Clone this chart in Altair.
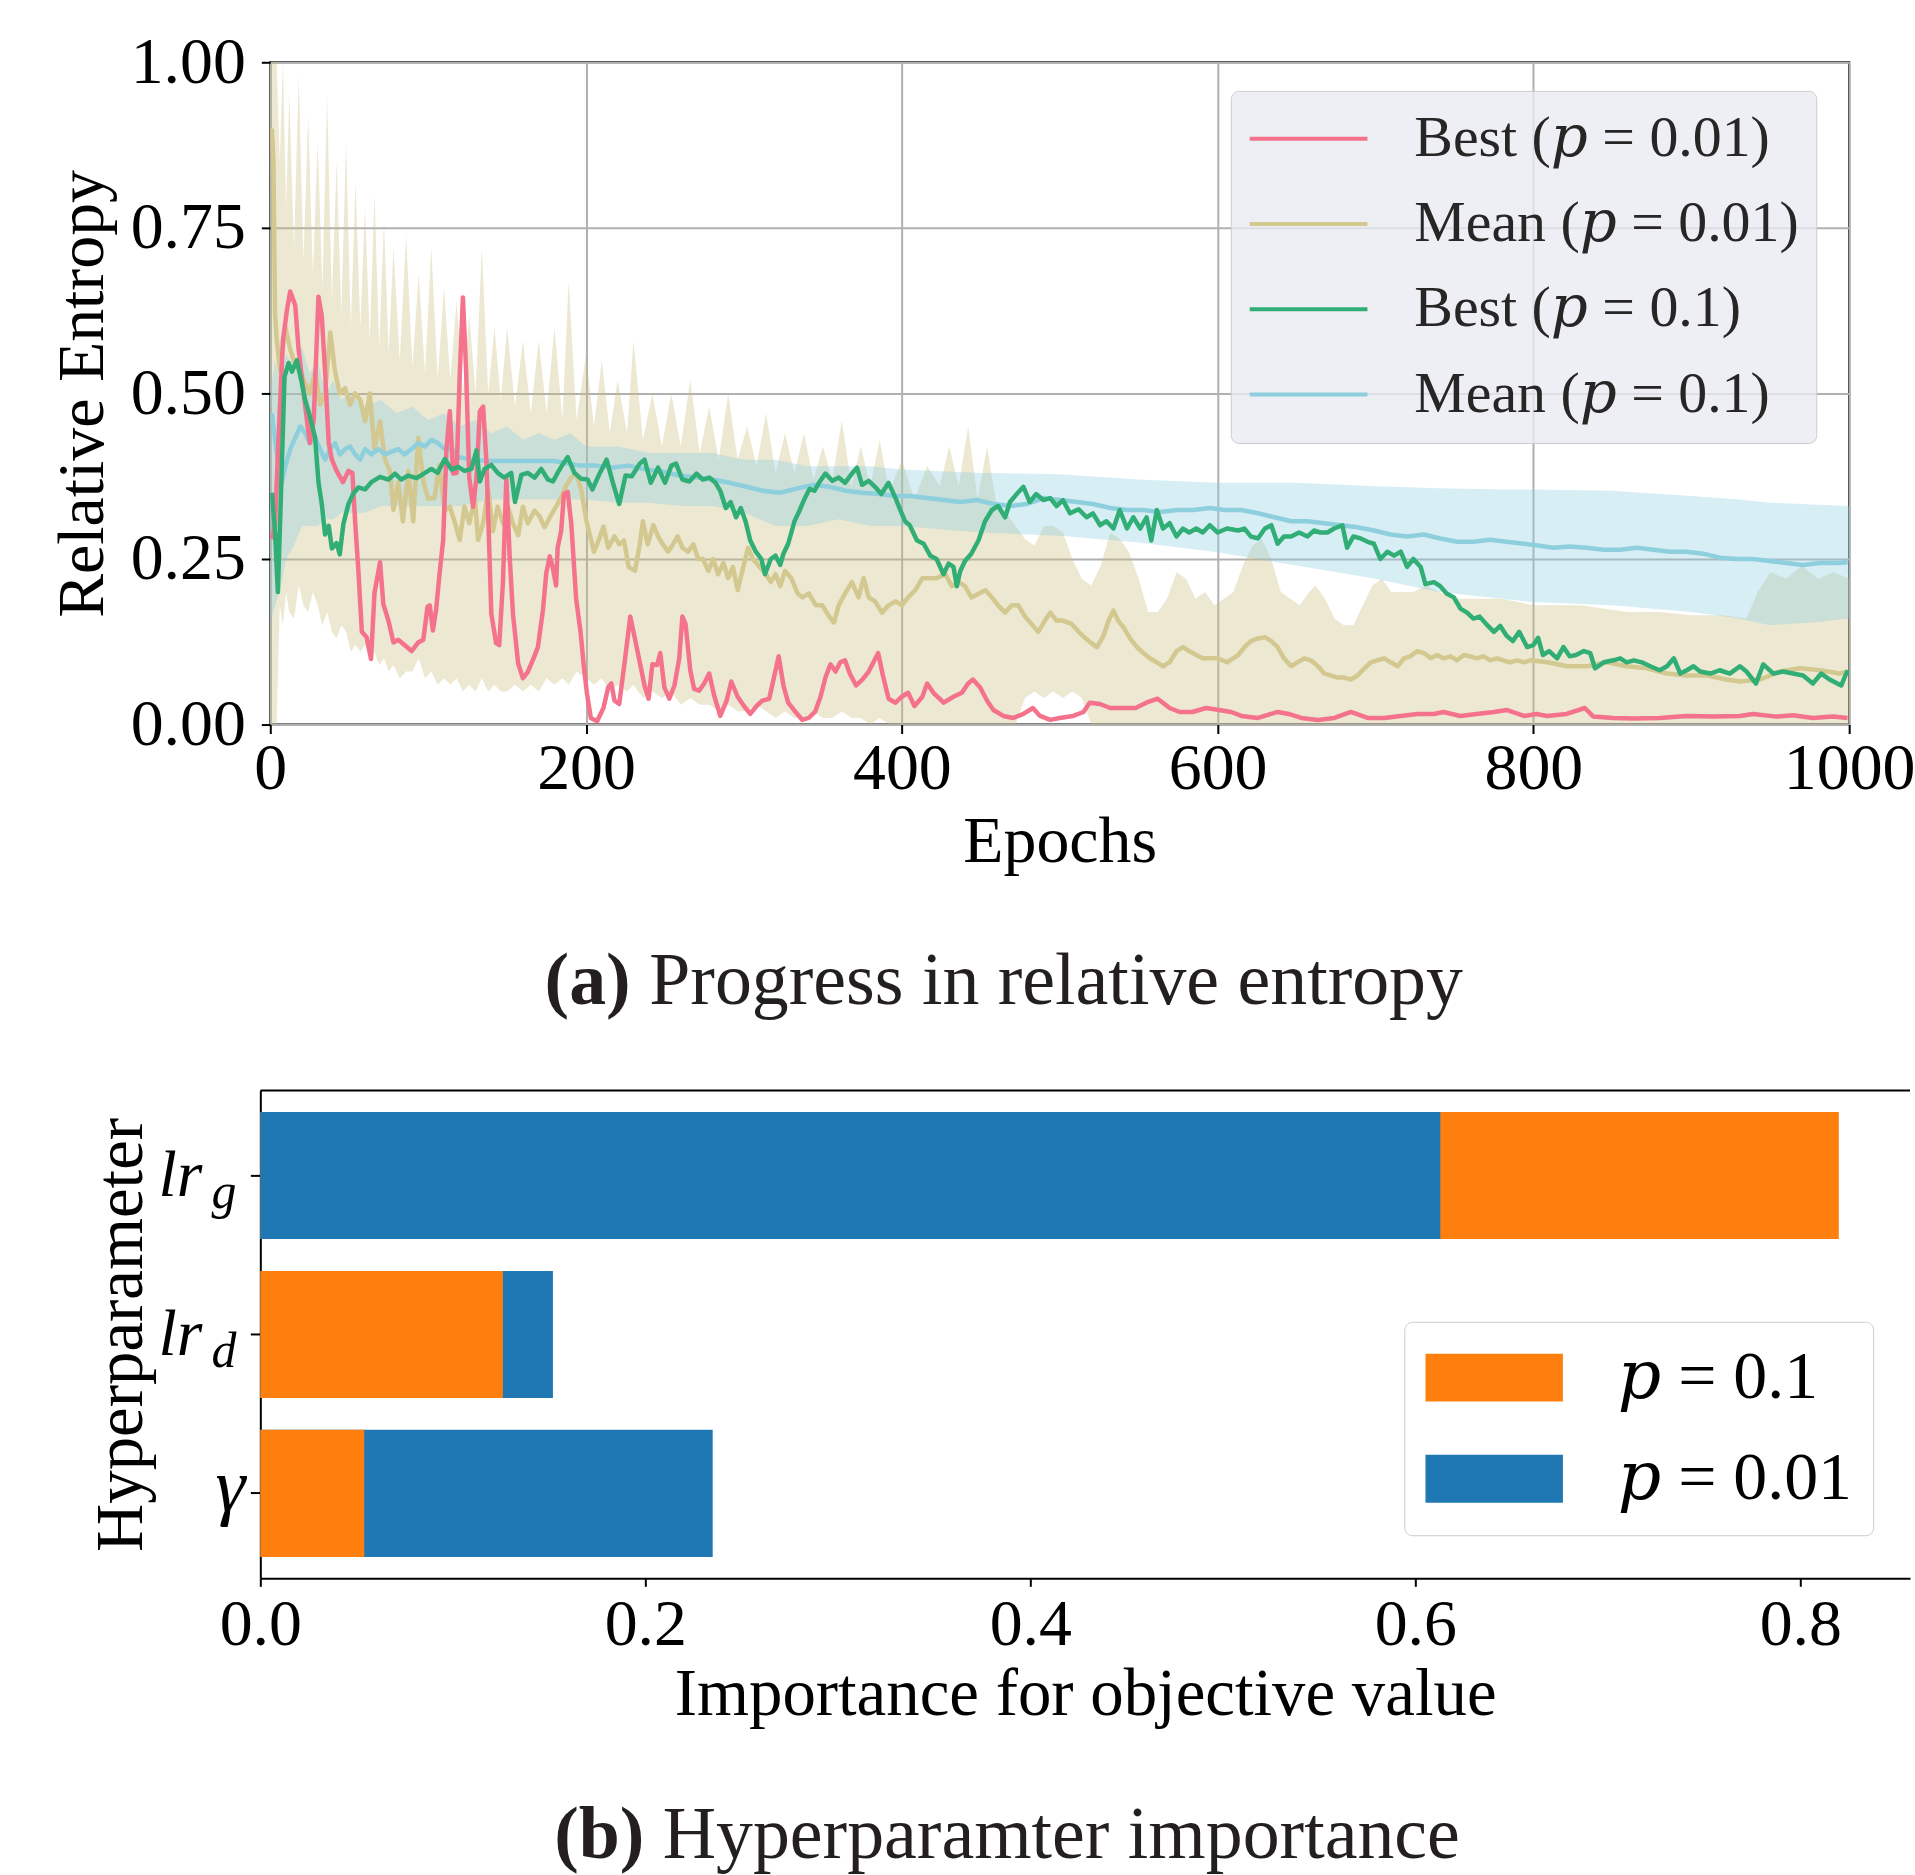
import altair as alt
import pandas as pd

# ---------------- data ----------------
P = "\U0001D45D"  # mathematical italic small p

# (epoch, value) for each line of panel (a)
BEST_P001 = [
    (1, 0.28), (3, 0.30), (5, 0.42), (8, 0.58), (10.5, 0.625), (12.6, 0.654), (15.8, 0.633), (17.9, 0.567), (22, 0.483), (25, 0.425),
    (27.5, 0.46), (30.5, 0.646), (32.6, 0.617), (34.7, 0.533), (37, 0.425), (39, 0.40), (42, 0.383), (46, 0.366), (49.5, 0.383), (52, 0.38),
    (53.7, 0.308), (55.8, 0.232), (58, 0.14), (61, 0.132), (63.8, 0.099), (66, 0.199), (69.5, 0.245), (71.6, 0.182), (74.8, 0.157), (78, 0.124),
    (81, 0.128), (85, 0.12), (89.5, 0.111), (93.7, 0.124), (96.9, 0.128), (99.6, 0.178), (101, 0.18), (103, 0.142), (105, 0.173), (107, 0.223),
    (109.5, 0.279), (111.6, 0.417), (113.7, 0.473), (115.8, 0.379), (118, 0.38), (120, 0.529), (122, 0.645), (124, 0.536), (126, 0.373), (128.4, 0.329),
    (130.6, 0.373), (132.7, 0.473), (134.8, 0.48), (137, 0.392), (140, 0.167), (143, 0.123), (145, 0.12), (147.4, 0.217), (149.5, 0.373), (151.6, 0.254),
    (153.7, 0.167), (157, 0.092), (160, 0.07), (163, 0.079), (166.4, 0.098), (169.5, 0.117), (172.7, 0.173), (174.8, 0.229), (177, 0.254), (179, 0.236),
    (181, 0.21), (182, 0.267), (184.2, 0.292), (186, 0.348), (188.4, 0.351), (190.6, 0.304), (193.7, 0.19), (196.5, 0.14), (198.5, 0.09), (200.5, 0.048),
    (203, 0.01), (207, 0.005), (211, 0.025), (214, 0.056), (216, 0.062), (218, 0.036), (221, 0.031), (223, 0.068), (225, 0.105), (228, 0.163),
    (231, 0.129), (234, 0.094), (237, 0.059), (239.6, 0.039), (242, 0.091), (245, 0.09), (247, 0.108), (249.6, 0.056), (252.7, 0.039), (256, 0.059),
    (259, 0.10), (261, 0.163), (263, 0.152), (266, 0.082), (268.4, 0.054), (271.6, 0.051), (274.8, 0.062), (278, 0.077), (281, 0.045), (285, 0.013),
    (289, 0.036), (292, 0.065), (296, 0.042), (300, 0.028), (304, 0.016), (308, 0.028), (311.6, 0.036), (316, 0.039), (319, 0.071), (322, 0.103),
    (325, 0.059), (328, 0.033), (332.7, 0.019), (337, 0.007), (341, 0.01), (345, 0.019), (348.5, 0.042), (351.6, 0.071), (354.8, 0.091), (358, 0.08),
    (361, 0.094), (364, 0.097), (367, 0.077), (371, 0.059), (375, 0.068), (379, 0.08), (382, 0.094), (385, 0.108), (388, 0.074), (391.6, 0.039),
    (396, 0.033), (400, 0.042), (404, 0.048), (408, 0.028), (413, 0.042), (416, 0.062), (420, 0.048), (426.5, 0.033), (432.7, 0.042), (438, 0.048),
    (442, 0.062), (445, 0.068), (449.6, 0.056), (454, 0.036), (458, 0.022), (464.3, 0.013), (470.6, 0.01), (477, 0.016), (483, 0.025), (487.5, 0.013),
    (494, 0.007), (500, 0.01), (508.5, 0.013), (515, 0.019), (519, 0.033), (525.5, 0.031), (532, 0.025), (540, 0.025), (548, 0.025), (554.8, 0.033),
    (562, 0.039), (569.6, 0.025), (576, 0.019), (584, 0.019), (592.7, 0.025), (601, 0.022), (608.6, 0.019), (615, 0.013), (625.5, 0.01), (638, 0.019),
    (645, 0.016), (653, 0.01), (663.5, 0.007), (674, 0.01), (684.4, 0.019), (695, 0.01), (705.5, 0.01), (716, 0.013), (726.5, 0.016), (737, 0.016),
    (743, 0.019), (753.8, 0.013), (764, 0.016), (775, 0.019), (783, 0.022), (794, 0.013), (802, 0.016), (808.6, 0.013), (821, 0.016), (832.6, 0.025),
    (838, 0.012), (850.6, 0.01), (863.4, 0.009), (880, 0.01), (897, 0.013), (914, 0.012), (930.8, 0.013), (939, 0.016), (954, 0.012), (964.4, 0.014),
    (977, 0.01), (989.6, 0.012), (999, 0.01),
]

BEST_P01 = [
    (1, 0.35), (3, 0.29), (4.8, 0.20), (7, 0.366), (9, 0.525), (11.6, 0.546), (13.7, 0.533), (16.8, 0.55), (19.6, 0.52), (22, 0.491),
    (25, 0.466), (28.4, 0.433), (30.5, 0.366), (32.6, 0.333), (34.7, 0.287), (37, 0.30), (39, 0.266), (42, 0.274), (44, 0.257), (46.3, 0.303),
    (49.5, 0.333), (52.6, 0.349), (55.8, 0.358), (60, 0.355), (64, 0.366), (69.5, 0.374), (74.8, 0.37), (79, 0.379), (83, 0.37), (87.4, 0.376),
    (92.6, 0.372), (98, 0.38), (102, 0.386), (106, 0.38), (110.5, 0.401), (114.8, 0.385), (119, 0.389), (123, 0.383), (127.4, 0.386), (130.6, 0.414),
    (132.7, 0.367), (135.8, 0.386), (140, 0.392), (144, 0.38), (148, 0.373), (152.6, 0.38), (155, 0.336), (159, 0.377), (163, 0.38), (167.4, 0.373),
    (171.6, 0.386), (175.8, 0.37), (179, 0.367), (182, 0.38), (185, 0.392), (188.4, 0.404), (192.6, 0.38), (196.9, 0.371), (201, 0.37), (204, 0.355),
    (208, 0.376), (213, 0.40), (217, 0.365), (221, 0.333), (225, 0.376), (229, 0.375), (234, 0.394), (237, 0.40), (241, 0.365), (245.6, 0.388),
    (250, 0.365), (254, 0.391), (257, 0.394), (261, 0.37), (265.4, 0.367), (270, 0.379), (274, 0.37), (278, 0.373), (282, 0.365), (285, 0.353),
    (288.5, 0.327), (291.6, 0.336), (295, 0.313), (298, 0.327), (301, 0.307), (304, 0.278), (307.5, 0.261), (311, 0.25), (313.3, 0.227), (317, 0.25),
    (320, 0.255), (323, 0.241), (325, 0.258), (328, 0.273), (332, 0.307), (335, 0.322), (338, 0.339), (341.6, 0.356), (344.6, 0.353), (347.5, 0.365),
    (351.6, 0.379), (356, 0.368), (360, 0.373), (364, 0.365), (368.4, 0.379), (371.6, 0.388), (374.8, 0.362), (379, 0.368), (383, 0.359), (387, 0.348),
    (391.6, 0.365), (396, 0.342), (399, 0.324), (402, 0.307), (405, 0.301), (409.6, 0.278), (413.8, 0.273), (418, 0.255), (422, 0.25), (426.4, 0.227),
    (429.6, 0.243), (432.7, 0.238), (434.8, 0.209), (437, 0.232), (440, 0.247), (444, 0.258), (448.5, 0.278), (452.7, 0.307), (457, 0.324), (461, 0.33),
    (465.4, 0.313), (468.5, 0.336), (472.7, 0.348), (477, 0.359), (481, 0.336), (485, 0.348), (489.6, 0.339), (494, 0.342), (498, 0.33), (502, 0.339),
    (506.5, 0.319), (512, 0.325), (517, 0.313), (521, 0.319), (525.6, 0.301), (529.6, 0.307), (534, 0.296), (538, 0.324), (542.6, 0.296), (546.6, 0.313),
    (551, 0.296), (555, 0.313), (558, 0.278), (561.5, 0.324), (565.4, 0.296), (569.6, 0.304), (574, 0.284), (578, 0.296), (582, 0.29), (586.5, 0.296),
    (590.6, 0.29), (595, 0.301), (600, 0.29), (606, 0.296), (613, 0.293), (617, 0.296), (621, 0.284), (625.5, 0.281), (630, 0.296), (634, 0.301),
    (638, 0.273), (642, 0.284), (646.5, 0.284), (651.6, 0.29), (657, 0.284), (661, 0.293), (665, 0.29), (669.6, 0.29), (673.8, 0.296), (679, 0.301),
    (682, 0.267), (686, 0.284), (690.6, 0.281), (695, 0.276), (699, 0.273), (703, 0.25), (707.5, 0.261), (711.7, 0.255), (716, 0.261), (720, 0.238),
    (724, 0.25), (728.6, 0.238), (731.6, 0.212), (737, 0.215), (741, 0.209), (745, 0.198), (749.6, 0.192), (753.8, 0.175), (758, 0.169), (762, 0.16),
    (766, 0.163), (770, 0.152), (775, 0.14), (779, 0.149), (783, 0.134), (787, 0.126), (791, 0.14), (796, 0.117), (800, 0.12), (803, 0.131),
    (806, 0.105), (810, 0.111), (815, 0.10), (819, 0.117), (823, 0.103), (827, 0.105), (832, 0.111), (836, 0.108), (839, 0.085), (844.6, 0.094),
    (850.6, 0.097), (855, 0.10), (859, 0.094), (863.6, 0.097), (868.6, 0.094), (874, 0.088), (880, 0.082), (884.6, 0.088), (889, 0.10), (893, 0.077),
    (897.2, 0.082), (901.4, 0.088), (905.6, 0.08), (912, 0.077), (918, 0.082), (924.4, 0.077), (930.8, 0.088), (935, 0.08), (941, 0.062), (945.6, 0.091),
    (952, 0.077), (958, 0.08), (964.4, 0.077), (970.8, 0.074), (977, 0.062), (982.3, 0.077), (987.6, 0.068), (995, 0.059), (999, 0.082),
]

MEAN_P001 = [
    (1, 0.90), (2, 0.85), (3, 0.62), (4, 0.583), (6.3, 0.533), (9.5, 0.60), (12.6, 0.567), (15.8, 0.542), (19, 0.533), (22, 0.516),
    (25, 0.50), (28.4, 0.533), (31.6, 0.483), (34.7, 0.50), (38, 0.592), (41, 0.533), (44, 0.50), (47.4, 0.508), (50.5, 0.483), (53.7, 0.50),
    (57, 0.49), (60, 0.458), (63, 0.50), (66, 0.416), (69.5, 0.458), (72.6, 0.40), (75.8, 0.383), (78, 0.324), (81, 0.366), (84, 0.307),
    (87.4, 0.383), (90.5, 0.307), (93.7, 0.433), (97, 0.366), (100, 0.341), (104, 0.342), (107, 0.392), (110.5, 0.323), (113.7, 0.329), (117, 0.304),
    (120, 0.279), (123, 0.329), (126, 0.304), (129.6, 0.342), (131.6, 0.279), (134.8, 0.304), (138, 0.354), (141, 0.292), (144, 0.329), (147.4, 0.304),
    (150.5, 0.329), (153.7, 0.304), (157, 0.286), (160, 0.329), (163, 0.304), (167.4, 0.323), (170.6, 0.314), (173.7, 0.298), (178, 0.317), (181, 0.329),
    (184, 0.342), (187.4, 0.361), (190.6, 0.373), (193.7, 0.379), (197, 0.354), (200, 0.31), (202, 0.29), (205, 0.261), (208, 0.278), (211, 0.299),
    (214, 0.267), (218, 0.284), (221, 0.272), (224, 0.278), (227, 0.238), (231, 0.232), (234, 0.272), (236, 0.307), (239, 0.272), (242.6, 0.301),
    (245.6, 0.284), (248.6, 0.272), (252, 0.261), (255, 0.272), (258, 0.284), (261, 0.267), (264.6, 0.261), (268, 0.272), (271, 0.25), (274, 0.25),
    (277.5, 0.232), (280.5, 0.25), (283.6, 0.227), (287, 0.244), (290, 0.221), (293, 0.238), (296, 0.203), (299.6, 0.238), (302.6, 0.267), (305.6, 0.25),
    (310, 0.238), (314, 0.227), (317, 0.215), (320, 0.227), (323, 0.209), (326, 0.232), (330, 0.221), (334, 0.198), (337, 0.192), (341, 0.198),
    (345.6, 0.18), (349.6, 0.18), (354, 0.163), (357, 0.154), (360, 0.18), (364, 0.198), (368.4, 0.215), (372.6, 0.192), (375.8, 0.221), (379, 0.192),
    (383, 0.186), (387.4, 0.169), (391.6, 0.18), (396, 0.186), (400, 0.18), (404, 0.192), (408.5, 0.203), (413, 0.221), (418, 0.221), (422, 0.221),
    (427.5, 0.227), (431.7, 0.209), (436, 0.215), (440, 0.209), (444, 0.192), (449, 0.198), (453, 0.203), (457, 0.192), (461, 0.18), (465.4, 0.169),
    (469.6, 0.18), (473.8, 0.18), (478, 0.163), (482, 0.152), (486.4, 0.14), (490.6, 0.157), (494, 0.169), (498, 0.157), (502, 0.157), (507.5, 0.152),
    (512, 0.14), (516, 0.131), (520, 0.123), (523.6, 0.117), (527.7, 0.134), (531, 0.157), (534, 0.172), (537, 0.157), (540.6, 0.146), (544.8, 0.129),
    (549, 0.117), (553, 0.108), (557, 0.10), (561.5, 0.094), (565.4, 0.088), (569.6, 0.094), (574, 0.111), (578, 0.117), (582, 0.111), (586.5, 0.105),
    (590.6, 0.10), (595, 0.10), (600, 0.10), (606, 0.094), (613, 0.105), (617, 0.117), (621, 0.126), (625.5, 0.13), (630, 0.132), (634, 0.126),
    (638, 0.117), (642, 0.10), (646.5, 0.088), (650.6, 0.094), (655, 0.10), (659, 0.097), (663.6, 0.088), (667.6, 0.077), (672, 0.074), (676, 0.071),
    (680, 0.071), (684.4, 0.068), (688.6, 0.074), (693, 0.085), (697, 0.094), (701, 0.097), (705.5, 0.10), (709.6, 0.094), (714, 0.088), (718, 0.10),
    (722, 0.103), (726.5, 0.111), (730.6, 0.108), (735, 0.10), (739, 0.105), (743, 0.10), (747.5, 0.103), (751.6, 0.097), (756, 0.105), (760, 0.103),
    (764, 0.10), (768.4, 0.103), (772.6, 0.097), (777, 0.10), (781, 0.097), (785, 0.094), (789.6, 0.097), (794, 0.094), (798, 0.097), (809, 0.094),
    (821.5, 0.088), (834, 0.088), (846.6, 0.094), (859, 0.088), (871.8, 0.085), (884.6, 0.077), (897, 0.074), (910, 0.074), (922.3, 0.068), (931, 0.065),
    (943.6, 0.068), (956, 0.08), (969, 0.085), (981.6, 0.082), (994, 0.077), (999, 0.08),
]

MEAN_P01 = [
    (1, 0.47), (2.5, 0.44), (4.8, 0.40), (7.4, 0.366), (9.5, 0.39), (12.6, 0.416), (15.8, 0.433), (19, 0.45), (22, 0.44), (25, 0.425),
    (28.4, 0.433), (31.6, 0.416), (34.7, 0.40), (38, 0.416), (41, 0.425), (44, 0.408), (47.4, 0.416), (50.5, 0.42), (53.7, 0.408), (57, 0.40),
    (60, 0.416), (64, 0.408), (68.4, 0.416), (72.6, 0.408), (76.9, 0.412), (81, 0.416), (85, 0.408), (89.5, 0.416), (93.7, 0.425), (98, 0.42),
    (102, 0.43), (106, 0.425), (110, 0.417), (115, 0.417), (119, 0.404), (127, 0.40), (140, 0.398), (160, 0.398), (180, 0.398), (196, 0.391),
    (206, 0.391), (217, 0.388), (227, 0.391), (238, 0.385), (248.6, 0.382), (259, 0.376), (270, 0.373), (280, 0.37), (291, 0.365), (301.6, 0.359),
    (312, 0.353), (322.6, 0.35), (333, 0.356), (343.6, 0.362), (354, 0.359), (364.6, 0.353), (375, 0.35), (385.4, 0.348), (396, 0.345), (405.6, 0.345),
    (416, 0.342), (426.5, 0.339), (437, 0.336), (447.6, 0.339), (458, 0.333), (469, 0.33), (479, 0.333), (489.6, 0.342), (500, 0.339), (511, 0.336),
    (521, 0.333), (532, 0.327), (542.6, 0.324), (553, 0.324), (563.6, 0.321), (574, 0.324), (584.5, 0.324), (595, 0.327), (604.5, 0.324), (615, 0.324),
    (625.5, 0.319), (636, 0.313), (646.5, 0.307), (657, 0.307), (667.6, 0.304), (678, 0.301), (688.6, 0.298), (699, 0.293), (709.6, 0.287), (720, 0.284),
    (730.6, 0.287), (741, 0.281), (751.6, 0.276), (762, 0.276), (772.6, 0.279), (783, 0.276), (794, 0.273), (804, 0.27), (812.5, 0.267), (823, 0.269),
    (833.6, 0.267), (844.6, 0.264), (855, 0.264), (865.6, 0.267), (876, 0.264), (886.5, 0.261), (897, 0.261), (907.6, 0.258), (918, 0.252), (928.6, 0.25),
    (939, 0.25), (949.6, 0.247), (960, 0.244), (970.8, 0.241), (981.3, 0.244), (991.8, 0.244), (999, 0.245),
]

# (epoch, lower, upper) of the shaded bands
BAND_P001 = [
    (0, 0, 1.0), (2, 0, 1.0), (4, 0, 1.0), (6, 0.18, 0.85), (8, 0.15, 1.0), (10, 0.2, 0.78), (12, 0.17, 0.95), (15, 0.16, 0.72), (18, 0.21, 0.98), (21, 0.18, 0.70),
    (24, 0.17, 0.92), (27, 0.2, 0.68), (30, 0.18, 0.88), (33, 0.15, 0.66), (36, 0.17, 0.95), (39, 0.14, 0.64), (42, 0.13, 0.85), (45, 0.15, 0.62), (48, 0.14, 0.88), (51, 0.11, 0.60),
    (54, 0.12, 0.82), (57, 0.11, 0.60), (60, 0.12, 0.78), (63, 0.10, 0.58), (66, 0.11, 0.80), (69, 0.09, 0.57), (72, 0.10, 0.76), (75, 0.08, 0.56), (78, 0.09, 0.72), (82, 0.07, 0.55),
    (86, 0.08, 0.74), (90, 0.08, 0.54), (94, 0.10, 0.68), (98, 0.07, 0.53), (102, 0.08, 0.72), (106, 0.06, 0.52), (110, 0.07, 0.66), (114, 0.06, 0.52), (118, 0.07, 0.64), (122, 0.05, 0.50),
    (126, 0.06, 0.62), (130, 0.05, 0.50), (134, 0.07, 0.72), (138, 0.05, 0.50), (142, 0.06, 0.60), (146, 0.05, 0.49), (150, 0.05, 0.60), (155, 0.06, 0.48), (160, 0.05, 0.58), (165, 0.06, 0.47),
    (170, 0.05, 0.58), (175, 0.07, 0.47), (180, 0.06, 0.60), (185, 0.07, 0.46), (189, 0.06, 0.67), (194, 0.08, 0.46), (200, 0.07, 0.56), (205, 0.06, 0.45), (210, 0.07, 0.55), (215, 0.05, 0.44),
    (220, 0.06, 0.52), (226, 0.05, 0.44), (230, 0.06, 0.58), (236, 0.04, 0.43), (242, 0.05, 0.50), (248, 0.04, 0.42), (254, 0.05, 0.50), (260, 0.03, 0.42), (266, 0.04, 0.52), (272, 0.03, 0.41),
    (278, 0.03, 0.48), (284, 0.02, 0.40), (290, 0.03, 0.50), (296, 0.02, 0.40), (302, 0.02, 0.45), (308, 0.03, 0.39), (314, 0.02, 0.47), (320, 0.01, 0.38), (326, 0.02, 0.44), (332, 0.01, 0.38),
    (338, 0.01, 0.44), (344, 0.02, 0.37), (350, 0.01, 0.42), (356, 0.01, 0.37), (362, 0.02, 0.46), (368, 0.01, 0.36), (374, 0.01, 0.42), (380, 0.0, 0.36), (386, 0.01, 0.43), (392, 0.0, 0.35),
    (400, 0, 0.40), (408, 0, 0.34), (416, 0, 0.39), (424, 0, 0.36), (430, 0, 0.42), (436, 0, 0.36), (442, 0, 0.45), (448, 0, 0.34), (454, 0, 0.42), (460, 0, 0.33),
    (466, 0, 0.32), (472, 0, 0.30), (478, 0.04, 0.28), (484, 0.05, 0.27), (490, 0.04, 0.30), (496, 0.05, 0.30), (502, 0.04, 0.29), (508, 0.05, 0.25), (514, 0.04, 0.22), (520, 0, 0.21),
    (526, 0, 0.24), (532, 0, 0.29), (538, 0, 0.28), (544, 0, 0.26), (550, 0, 0.22), (556, 0, 0.17), (562, 0, 0.17), (568, 0, 0.19), (574, 0, 0.23), (580, 0, 0.22),
    (586, 0, 0.19), (592, 0, 0.20), (598, 0, 0.18), (604, 0, 0.19), (610, 0, 0.20), (616, 0, 0.24), (622, 0, 0.27), (628, 0, 0.28), (634, 0, 0.25), (640, 0, 0.20),
    (646, 0, 0.19), (652, 0, 0.18), (658, 0, 0.20), (662, 0, 0.21), (668, 0, 0.19), (674, 0, 0.16), (680, 0, 0.15), (686, 0, 0.15), (692, 0, 0.18), (698, 0, 0.21),
    (704, 0, 0.22), (710, 0, 0.20), (716, 0, 0.20), (724, 0, 0.20), (732, 0, 0.21), (740, 0, 0.20), (750, 0, 0.19), (760, 0, 0.19), (770, 0, 0.19), (780, 0, 0.19),
    (790, 0, 0.185), (800, 0, 0.18), (815, 0, 0.18), (830, 0, 0.18), (845, 0, 0.175), (860, 0, 0.17), (880, 0, 0.17), (900, 0, 0.165), (920, 0, 0.165), (935, 0, 0.16),
    (942, 0, 0.20), (950, 0, 0.23), (960, 0, 0.22), (970, 0, 0.24), (980, 0, 0.22), (990, 0, 0.23), (1000, 0, 0.22),
]

BAND_P01 = [
    (0, 0.15, 0.50), (3, 0.18, 0.55), (6, 0.20, 0.52), (10, 0.25, 0.56), (15, 0.27, 0.54), (20, 0.30, 0.57), (25, 0.30, 0.53), (30, 0.30, 0.55), (35, 0.31, 0.50), (40, 0.31, 0.52),
    (45, 0.32, 0.49), (50, 0.32, 0.50), (60, 0.32, 0.48), (70, 0.33, 0.49), (80, 0.33, 0.47), (90, 0.33, 0.48), (100, 0.33, 0.46), (110, 0.33, 0.47), (120, 0.33, 0.45), (130, 0.335, 0.46),
    (140, 0.34, 0.44), (150, 0.34, 0.45), (160, 0.34, 0.43), (170, 0.34, 0.44), (180, 0.34, 0.43), (190, 0.34, 0.44), (200, 0.34, 0.42), (220, 0.335, 0.42), (240, 0.335, 0.41), (260, 0.33, 0.41),
    (280, 0.33, 0.41), (300, 0.32, 0.40), (320, 0.30, 0.40), (340, 0.30, 0.39), (360, 0.31, 0.39), (380, 0.30, 0.39), (400, 0.30, 0.385), (450, 0.29, 0.38), (500, 0.285, 0.378), (550, 0.275, 0.37),
    (600, 0.26, 0.365), (650, 0.24, 0.365), (700, 0.22, 0.36), (740, 0.20, 0.357), (780, 0.19, 0.355), (800, 0.185, 0.355), (850, 0.18, 0.353), (900, 0.17, 0.345), (930, 0.16, 0.34), (950, 0.15, 0.335),
    (980, 0.155, 0.332), (1000, 0.16, 0.33),
]

SERIES = [f"Best ({P} = 0.01)", f"Mean ({P} = 0.01)", f"Best ({P} = 0.1)", f"Mean ({P} = 0.1)"]
SERIES_COLORS = ["#F4728C", "#D3C88F", "#31AE76", "#8ECFDD"]
X_TICKS = [0, 200, 400, 600, 800, 1000]
Y_TICKS = [0.0, 0.25, 0.5, 0.75, 1.0]

# panel (b)
PARAMS = ["lr_g", "lr_d", "gamma"]
GROUPS = [f"{P} = 0.1", f"{P} = 0.01"]
GROUP_COLORS = ["#FF7F0E", "#1F77B4"]
IMPORTANCE_P01 = [0.820, 0.126, 0.054]    # p = 0.1
IMPORTANCE_P001 = [0.613, 0.152, 0.235]   # p = 0.01
B_TICKS = [0.0, 0.2, 0.4, 0.6, 0.8]

CAPTION_A = ("(a)", "Progress in relative entropy")
CAPTION_B = ("(b)", "Hyperparamter importance")

# ---------------- styling ----------------
FONT = "Liberation Serif"
LEGEND_FONT = "Liberation Serif, DejaVu Serif, serif"
W1, H1 = 1583, 664
W2, H2 = 1644, 489          # bottom panel: drawn 10 px left of the shared origin
SHIFT = 10
CAP_COLOR = "#231F20"
CAP_SIZE = 74
LINE_W = 4.5

# ---------------- panel (a) ----------------
x_top = alt.X(
    "epoch:Q",
    scale=alt.Scale(domain=[0, 1000], nice=False, zero=False),
    axis=alt.Axis(
        values=X_TICKS, format="d", grid=True, gridColor="#B0B0B0", gridWidth=2,
        domain=False, ticks=True, tickSize=9, tickWidth=2, tickColor="black",
        labelFont=FONT, labelFontSize=66, labelColor="black", labelPadding=3,
        labelFlush=False, labelOverlap=False,
        title="Epochs", titleFont=FONT, titleFontSize=66, titleFontWeight="normal",
        titleColor="black", titleX=W1 / 2, titleY=137, titleBaseline="alphabetic",
        titleAlign="center",
    ),
)
y_scale_top = alt.Scale(domain=[0, 1], nice=False, zero=False)
y_axis_top = alt.Axis(
    values=Y_TICKS, format=".2f", grid=True, gridColor="#B0B0B0", gridWidth=2,
    domain=False, ticks=True, tickSize=9, tickWidth=2, tickColor="black",
    labelFont=FONT, labelFontSize=66, labelColor="black", labelPadding=16,
    labelOverlap=False, minExtent=221, maxExtent=221,
    title="Relative Entropy", titleFont=FONT, titleFontSize=66, titleFontWeight="normal",
    titleColor="black", titleX=-168, titleY=H1 / 2, titleAngle=270,
    titleBaseline="alphabetic", titleAlign="center",
)
legend_top = alt.Legend(
    title=None, orient="none", legendX=963, legendY=28.7, direction="vertical",
    symbolType="stroke", symbolSize=13924, symbolStrokeWidth=4,
    labelFont=LEGEND_FONT, labelFontSize=58, labelColor="#262626", labelOffset=45, labelLimit=0,
    clipHeight=62, padding=17, rowPadding=23.5, fillColor="rgba(234,234,242,0.8)",
    strokeColor="#CCCCCC", cornerRadius=8,
)
color_top = alt.Color("series:N", scale=alt.Scale(domain=SERIES, range=SERIES_COLORS), legend=legend_top)


def band_layer(rows, fill):
    df = pd.DataFrame(rows, columns=["epoch", "lo", "hi"])
    return alt.Chart(df).mark_area(color=fill, opacity=0.35, clip=True).encode(
        x=x_top, y=alt.Y("lo:Q", scale=y_scale_top, axis=y_axis_top), y2="hi:Q"
    )


def line_layer(rows, name):
    df = pd.DataFrame(rows, columns=["epoch", "value"])
    df["series"] = name
    return alt.Chart(df).mark_line(strokeWidth=LINE_W, clip=True, strokeJoin="round").encode(
        x=x_top, y=alt.Y("value:Q", scale=y_scale_top, axis=y_axis_top), color=color_top
    )


def caption(txt, x, y, bold):
    return alt.Chart(pd.DataFrame({"t": [txt]})).mark_text(
        font=FONT, fontSize=CAP_SIZE, fontWeight="bold" if bold else "normal",
        align="left", baseline="alphabetic", color=CAP_COLOR,
    ).encode(x=alt.value(x), y=alt.value(y), text="t:N")


top = alt.layer(
    band_layer(BAND_P001, "#C8BE7C"),
    band_layer(BAND_P01, "#8DCDE3"),
    line_layer(MEAN_P001, SERIES[1]),
    line_layer(MEAN_P01, SERIES[3]),
    line_layer(BEST_P001, SERIES[0]),
    line_layer(BEST_P01, SERIES[2]),
    caption(CAPTION_A[0], 275, 944, True),
    caption(CAPTION_A[1], 380, 944, False),
).properties(width=W1, height=H1, view=alt.ViewBackground(stroke="black", strokeWidth=2))

# ---------------- panel (b) ----------------
rows = []
for i, prm in enumerate(PARAMS):
    rows.append({"param": prm, "group": GROUPS[0], "value": IMPORTANCE_P01[i]})
    rows.append({"param": prm, "group": GROUPS[1], "value": IMPORTANCE_P001[i]})
imp = pd.DataFrame(rows).sort_values(["param", "value"], ascending=[True, False])

y_b = alt.Y(
    "param:N", sort=PARAMS,
    scale=alt.Scale(paddingInner=0.2, paddingOuter=0.134),
    axis=alt.Axis(
        labels=False, ticks=True, tickSize=10, tickWidth=2, tickColor="black",
        domain=True, domainColor="black", domainWidth=2, grid=False, offset=SHIFT,
        minExtent=211, maxExtent=211,
        title="Hyperparameter", titleFont=FONT, titleFontSize=67, titleFontWeight="normal",
        titleColor="black", titleX=-119, titleY=H2 / 2, titleAngle=270,
        titleBaseline="alphabetic", titleAlign="center",
    ),
)
x_b = alt.X(
    "value:Q", stack=None,
    scale=alt.Scale(domain=[0, 0.857], range=[-SHIFT, W2], nice=False, zero=True),
    axis=alt.Axis(
        values=B_TICKS, format=".1f", grid=False, domain=True, domainColor="black",
        domainWidth=2, ticks=True, tickSize=8, tickWidth=2, tickColor="black",
        labelFont=FONT, labelFontSize=66, labelColor="black", labelPadding=6,
        labelFlush=False, labelOverlap=False,
        title="Importance for objective value", titleFont=FONT, titleFontSize=67,
        titleFontWeight="normal", titleColor="black", titleX=817, titleY=137,
        titleBaseline="alphabetic", titleAlign="center",
    ),
)
legend_b = alt.Legend(
    title=None, orient="none", legendX=1137, legendY=231.8, direction="vertical",
    symbolType="M-1,-0.348L1,-0.348L1,0.348L-1,0.348Z", symbolSize=19044, symbolStrokeWidth=0,
    labelFont=LEGEND_FONT, labelFontSize=68, labelColor="black", labelOffset=55, labelLimit=0,
    clipHeight=70, padding=21, rowPadding=31.4, fillColor="white", strokeColor="#CCCCCC",
    cornerRadius=8,
)
bars = alt.Chart(imp).mark_bar().encode(
    y=y_b, x=x_b,
    color=alt.Color("group:N", scale=alt.Scale(domain=GROUPS, range=GROUP_COLORS), legend=legend_b),
    order=alt.Order("value:Q", sort="descending"),
)
top_spine = alt.Chart(pd.DataFrame({"a": [0]})).mark_rule(color="black", strokeWidth=2).encode(
    x=alt.value(-SHIFT), x2=alt.value(W2), y=alt.value(0)
)
lbl_lr = alt.Chart(pd.DataFrame({"param": ["lr_g", "lr_d"], "t": ["lr", "lr"]})).mark_text(
    font=FONT, fontStyle="italic", fontSize=66, align="right", baseline="alphabetic", dy=21, color="black"
).encode(y=y_b, x=alt.value(-58 - SHIFT), text="t:N")
lbl_sub = alt.Chart(pd.DataFrame({"param": ["lr_g", "lr_d"], "t": ["g", "d"]})).mark_text(
    font=FONT, fontStyle="italic", fontSize=50, align="left", baseline="alphabetic", dy=33, color="black"
).encode(y=y_b, x=alt.value(-49 - SHIFT), text="t:N")
lbl_gamma = alt.Chart(pd.DataFrame({"param": ["gamma"], "t": ["\u03b3"]})).mark_text(
    font=FONT, fontStyle="italic", fontSize=76, align="right", baseline="alphabetic", dy=18, color="black"
).encode(y=y_b, x=alt.value(-15 - SHIFT), text="t:N")

bottom = alt.layer(
    bars, top_spine, lbl_lr, lbl_sub, lbl_gamma,
    caption(CAPTION_B[0], 284.6, 769.4, True),
    caption(CAPTION_B[1], 393.5, 769.4, False),
).properties(width=W2, height=H2, view=alt.ViewBackground(stroke="transparent"))

chart = (
    alt.vconcat(top, bottom, spacing=69)
    .resolve_scale(color="independent")
    .resolve_legend(color="independent")
    .properties(padding={"left": 49, "top": 26, "right": -6, "bottom": 0}, background="white")
)

chart.save("out.html", embed_options={"renderer": "svg", "actions": False})
